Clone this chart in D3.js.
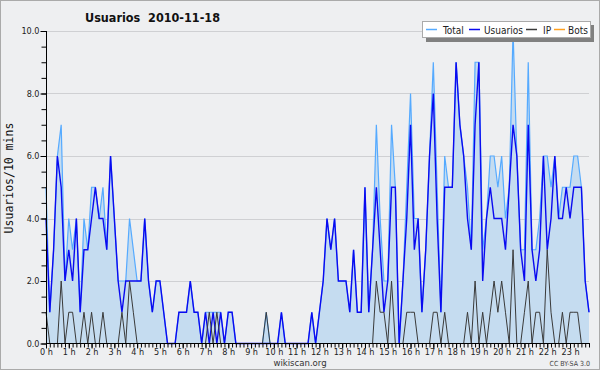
<!DOCTYPE html>
<html>
<head>
<meta charset="utf-8">
<script src="https://cdn.jsdelivr.net/npm/d3@7"></script>
<style>
  body { margin: 0; background: #fff; }
  svg { display: block; font-family: "DejaVu Sans Condensed", "DejaVu Sans", sans-serif; }
</style>
</head>
<body>
<div id="chart"></div>
<script>
// users per 10 minute slot, 2010-11-18 (144 slots)
const total = [
  5,1,3,6,7,2,4,3,4,1,4,3,5,5,4,5,3,6,4,2,2,2,4,3,2,2,4,2,1,2,2,1,0,0,0,1,1,1,2,1,1,0,1,1,1,1,1,0,
  1,1,0,0,0,0,0,0,0,0,1,0,0,0,1,0,0,0,0,0,0,0,1,0,1,2,4,3,4,2,2,2,1,3,1,1,5,1,3,7,4,2,2,7,5,0,2,5,
  8,4,4,1,3,6,9,5,1,6,5,5,9,7,6,5,3,9,9,3,4,6,6,5,6,4,5,10,6,3,3,9,3,3,4,6,6,5,6,4,5,5,5,6,6,5,2,1
];
const usuarios = [
  4,1,3,6,5,2,3,2,4,1,3,3,4,5,4,4,3,6,4,2,1,2,2,2,2,2,4,2,1,2,2,1,0,0,0,1,1,1,2,1,1,0,1,0,1,0,1,0,
  1,1,0,0,0,0,0,0,0,0,0,0,0,0,1,0,0,0,0,0,0,0,1,0,1,2,4,3,4,2,2,2,1,3,1,1,5,1,3,5,3,1,2,5,5,0,2,4,
  7,3,4,1,3,6,8,4,1,5,5,5,9,7,6,4,3,7,9,2,4,5,4,4,4,3,5,7,6,3,2,7,3,2,3,6,3,4,6,4,4,5,4,5,5,5,2,1
];
const ip = [
  1,0,0,0,2,0,1,1,0,0,1,0,1,0,0,1,0,0,0,0,1,0,2,1,0,0,0,0,0,0,0,0,0,0,0,0,0,0,0,0,0,0,0,1,0,1,0,0,
  0,0,0,0,0,0,0,0,0,0,1,0,0,0,0,0,0,0,0,0,0,0,0,0,0,0,0,0,0,0,0,0,0,0,0,0,0,0,0,2,1,1,0,2,0,0,0,1,
  1,1,0,0,0,0,1,1,0,1,0,0,0,0,0,1,0,2,0,1,0,1,2,1,2,1,0,3,0,0,1,2,0,1,1,0,3,1,0,0,1,0,1,1,1,0,0,0
];
const bots = [
  0,0,0,0,0,0,0,0,0,0,0,0,0,0,0,0,0,0,0,0,0,0,0,0,0,0,0,0,0,0,0,0,0,0,0,0,0,0,0,0,0,0,0,0,0,0,0,0,
  0,0,0,0,0,0,0,0,0,0,0,0,0,0,0,0,0,0,0,0,0,0,0,0,0,0,0,0,0,0,0,0,0,0,0,0,0,0,0,0,0,0,0,0,0,0,0,0,
  0,0,0,0,0,0,0,0,0,0,0,0,0,0,0,0,0,0,0,0,0,0,0,0,0,0,0,0,0,0,0,0,0,0,0,0,0,0,0,0,0,0,0,0,0,0,0,0
];
const hourLabels = ["0 h","1 h","2 h","3 h","4 h","5 h","6 h","7 h","8 h","9 h","10 h","11 h",
  "12 h","13 h","14 h","15 h","16 h","17 h","18 h","19 h","20 h","21 h","22 h","23 h"];
const yTicks = [0, 2, 4, 6, 8, 10];
const legendNames = ["Total", "Usuarios", "IP", "Bots"];
const legendColors = ["#55aaff", "#0a0af0", "#3a3a3a", "#ffa020"];

var width = 600, height = 370;

var svg = d3.select("#chart").append("svg")
  .attr("width", width)
  .attr("height", height);

svg.append("rect")
  .attr("x", 0.5).attr("y", 0.5)
  .attr("width", width - 1).attr("height", height - 1)
  .attr("fill", "#eeeff1")
  .attr("stroke", "#aaaaaa");

var x = d3.scaleLinear().domain([0, 143]).range([46, 589]);
var y = d3.scaleLinear().domain([0, 10]).range([343.5, 31]);

// grid
svg.append("g").selectAll("line")
  .data(yTicks.filter(d => d > 0))
  .enter().append("line")
  .attr("x1", 46).attr("x2", 589)
  .attr("y1", d => Math.round(y(d)) + 0.5)
  .attr("y2", d => Math.round(y(d)) + 0.5)
  .attr("stroke", "#cfd0d3");

var idx = d3.range(total.length);

var area = d3.area()
  .x(i => x(i))
  .y0(y(0))
  .y1(i => y(total[i]));

svg.append("path")
  .datum(idx)
  .attr("d", area)
  .attr("fill", "#c5dcf0");

function drawLine(values, color, w) {
  var line = d3.line().x(i => x(i)).y(i => y(values[i]));
  svg.append("path")
    .datum(idx)
    .attr("d", line)
    .attr("fill", "none")
    .attr("stroke", color)
    .attr("stroke-width", w);
}
drawLine(bots, legendColors[3], 1);
drawLine(total, legendColors[0], 1.2);
drawLine(usuarios, legendColors[1], 1.4);
drawLine(ip, legendColors[2], 1);

// axes
var yAxisMinor = d3.axisLeft(y).tickValues(d3.range(0, 10.01, 0.5)).tickSize(5).tickFormat("");
var yAxis = d3.axisLeft(y).tickValues(yTicks).tickSize(6).tickFormat(d3.format(".1f"));

svg.append("g").attr("transform", "translate(46.5,0)").call(yAxisMinor);
var gy = svg.append("g").attr("transform", "translate(46.5,0)").call(yAxis);
gy.selectAll("text").attr("font-size", 9).attr("fill", "#222").attr("x", -7);

var xAxisMinor = d3.axisBottom(x).tickValues(idx).tickSize(4).tickFormat("");
var xAxis = d3.axisBottom(x).tickValues(d3.range(0, 144, 6)).tickSize(5)
  .tickFormat(i => hourLabels[i / 6]);

svg.append("g").attr("transform", "translate(0,343.5)").call(xAxisMinor);
var gx = svg.append("g").attr("transform", "translate(0,343.5)").call(xAxis);
gx.selectAll("text").attr("font-size", 9).attr("fill", "#222").attr("y", 5);
svg.selectAll(".domain").remove();
svg.selectAll(".tick line").attr("stroke", "#000");
svg.selectAll(".tick text").attr("font-family", "DejaVu Sans Condensed, DejaVu Sans, sans-serif");

svg.append("line").attr("x1", 46.5).attr("x2", 46.5).attr("y1", 31).attr("y2", 344)
  .attr("stroke", "#000");
svg.append("line").attr("x1", 46).attr("x2", 590).attr("y1", 343.5).attr("y2", 343.5)
  .attr("stroke", "#000");

// titles
svg.append("text")
  .attr("x", 85).attr("y", 22)
  .attr("font-size", 12.5).attr("font-weight", "bold")
  .attr("fill", "#111")
  .attr("xml:space", "preserve")
  .text("Usuarios  2010-11-18");

svg.append("text")
  .attr("transform", "translate(13,178) rotate(-90)")
  .attr("text-anchor", "middle")
  .attr("font-family", "DejaVu Sans Mono, monospace")
  .attr("font-size", 11.5)
  .attr("fill", "#111")
  .text("Usuarios/10 mins");

svg.append("text")
  .attr("x", 300).attr("y", 366)
  .attr("text-anchor", "middle")
  .attr("font-size", 9.5).attr("fill", "#333")
  .text("wikiscan.org");

svg.append("text")
  .attr("x", 590).attr("y", 366)
  .attr("text-anchor", "end")
  .attr("font-size", 7).attr("fill", "#444")
  .text("CC BY-SA 3.0");

// legend
var lg = svg.append("g").attr("transform", "translate(422,21)");
lg.append("rect").attr("x", 4).attr("y", 4).attr("width", 168).attr("height", 17).attr("fill", "#808080");
lg.append("rect").attr("x", 0.5).attr("y", 0.5).attr("width", 168).attr("height", 16)
  .attr("fill", "#fff").attr("stroke", "#aaa");
var legendX = [4, 47, 104, 132];
var legendTextX = [21, 62, 121, 146];
legendNames.forEach(function(name, k) {
  lg.append("line")
    .attr("x1", legendX[k]).attr("x2", legendX[k] + 11)
    .attr("y1", 8.5).attr("y2", 8.5)
    .attr("stroke", legendColors[k]).attr("stroke-width", 1.5);
  lg.append("text")
    .attr("x", legendTextX[k]).attr("y", 12.5)
    .attr("font-size", 10).attr("fill", "#222")
    .text(name);
});
</script>
</body>
</html>
